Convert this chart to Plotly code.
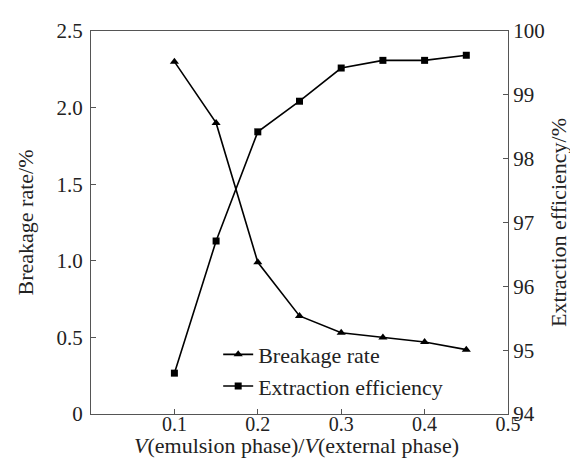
import plotly.graph_objects as go

ratio = [0.10, 0.15, 0.20, 0.25, 0.30, 0.35, 0.40, 0.45]
breakage = [2.30, 1.90, 0.99, 0.64, 0.53, 0.50, 0.47, 0.42]
extraction = [94.64, 96.71, 98.42, 98.90, 99.42, 99.54, 99.54, 99.62]

x_ticks = [0.1, 0.2, 0.3, 0.4, 0.5]
x_labels = ["0.1", "0.2", "0.3", "0.4", "0.5"]
y1_ticks = [0, 0.5, 1.0, 1.5, 2.0, 2.5]
y1_labels = ["0", "0.5", "1.0", "1.5", "2.0", "2.5"]
y2_ticks = [94, 95, 96, 97, 98, 99, 100]
x_title = "<i>V</i>(emulsion phase)/<i>V</i>(external phase)"

FAM = "Liberation Serif"
tick_font = dict(family=FAM, size=21, color="#222")
xtick_font = dict(family=FAM, size=20, color="#222")
title_font = dict(family=FAM, size=22, color="#222")
legend_font = dict(family=FAM, size=22, color="#222")

fig = go.Figure()
fig.add_trace(go.Scatter(x=ratio, y=breakage, mode="lines+markers", name="Breakage rate",
                         line=dict(color="black", width=1.6),
                         marker=dict(symbol="triangle-up", size=8, color="black"), yaxis="y"))
fig.add_trace(go.Scatter(x=ratio, y=extraction, mode="lines+markers", name="Extraction efficiency",
                         line=dict(color="black", width=1.6),
                         marker=dict(symbol="square", size=7, color="black"), yaxis="y2"))

axis_common = dict(showline=True, linecolor="#555", linewidth=1.2, ticks="inside",
                   ticklen=5, tickcolor="#555", showgrid=False, zeroline=False)

fig.update_layout(
    width=578, height=464,
    margin=dict(l=83, r=78, t=23, b=58),
    plot_bgcolor="white", paper_bgcolor="white",
    font=dict(family=FAM, size=22, color="#222"),
    showlegend=True,
    legend=dict(x=0.305, y=0.21, xanchor="left", yanchor="top", bgcolor="rgba(0,0,0,0)",
                font=legend_font, tracegroupgap=0, borderwidth=0),
    xaxis=dict(range=[0, 0.5], tickvals=x_ticks, ticktext=x_labels, mirror=True,
               ticklabelstandoff=-8, tickfont=xtick_font, **axis_common),
    yaxis=dict(range=[0, 2.5], tickvals=y1_ticks, ticktext=y1_labels, ticklabelstandoff=3,
               tickfont=tick_font,
               title=dict(text="Breakage rate/%", font=title_font, standoff=16), **axis_common),
    yaxis2=dict(range=[94, 100], tickvals=y2_ticks, overlaying="y", side="right",
                tickfont=tick_font,
                title=dict(text="Extraction efficiency/%", font=title_font, standoff=6), **axis_common),
)

fig.add_annotation(text=x_title, xref="paper", yref="paper", x=0.494, y=-0.081,
                   xanchor="center", yanchor="middle", showarrow=False, font=title_font)

fig.write_html("out.html")
